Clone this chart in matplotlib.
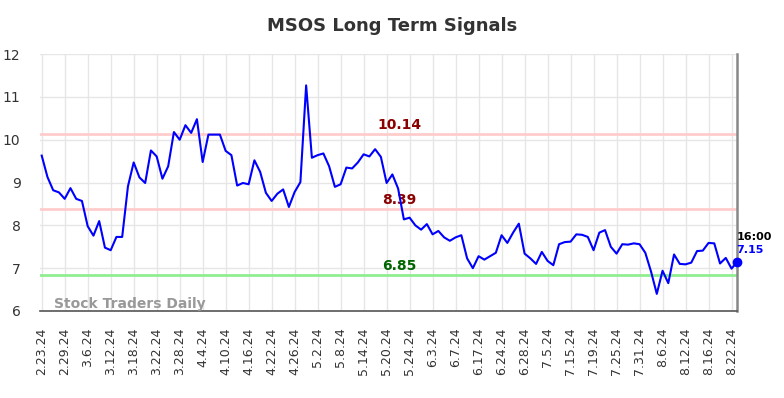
import matplotlib
matplotlib.use("Agg")
import matplotlib.pyplot as plt

tick_labels = ["2.23.24", "2.29.24", "3.6.24", "3.12.24", "3.18.24", "3.22.24", "3.28.24",
               "4.4.24", "4.10.24", "4.16.24", "4.22.24", "4.26.24", "5.2.24", "5.8.24",
               "5.14.24", "5.20.24", "5.24.24", "6.3.24", "6.7.24", "6.17.24", "6.24.24",
               "6.28.24", "7.5.24", "7.15.24", "7.19.24", "7.25.24", "7.31.24", "8.6.24",
               "8.12.24", "8.16.24", "8.22.24"]

values = [9.63, 9.13, 8.82, 8.77, 8.62, 8.87, 8.62, 8.57, 7.98, 7.76,
          8.10, 7.48, 7.42, 7.73, 7.73, 8.91, 9.47, 9.12, 8.99, 9.75,
          9.61, 9.09, 9.38, 10.18, 10.00, 10.34, 10.16, 10.48, 9.48, 10.12,
          10.12, 10.12, 9.74, 9.64, 8.93, 8.99, 8.96, 9.52, 9.25, 8.76,
          8.57, 8.74, 8.84, 8.43, 8.78, 9.01, 11.27, 9.58, 9.64, 9.68,
          9.38, 8.90, 8.96, 9.35, 9.33, 9.47, 9.66, 9.61, 9.78, 9.60,
          8.99, 9.19, 8.86, 8.14, 8.18, 8.00, 7.90, 8.03, 7.79, 7.87,
          7.72, 7.64, 7.72, 7.77, 7.23, 7.00, 7.28, 7.20, 7.28, 7.36,
          7.77, 7.59, 7.83, 8.04, 7.34, 7.23, 7.10, 7.38, 7.17, 7.07,
          7.56, 7.61, 7.62, 7.79, 7.78, 7.73, 7.42, 7.83, 7.89, 7.50,
          7.34, 7.56, 7.55, 7.58, 7.56, 7.36, 6.92, 6.40, 6.94, 6.65,
          7.32, 7.10, 7.09, 7.13, 7.40, 7.41, 7.59, 7.58, 7.11, 7.24,
          6.99, 7.15]

upper_level = 10.14
middle_level = 8.39
lower_level = 6.85
last_time = "16:00"

fig = plt.figure(figsize=(7.84, 3.98), dpi=100)
ax = fig.add_axes([0.051, 0.2186, 0.8894, 0.6454])

x = list(range(len(values)))
tick_pos = list(range(0, 4 * len(tick_labels), 4))

ax.set_xlim(-0.3, len(values) - 1)
ax.set_ylim(6, 12)
ax.set_yticks(range(6, 13))
ax.set_xticks(tick_pos)
ax.set_xticklabels(tick_labels, rotation=90, fontsize=9, color="#333333")
ax.tick_params(axis="y", labelsize=10, colors="#333333", length=0, pad=14)
ax.tick_params(axis="x", length=0, pad=12)
ax.grid(True, color="#e6e6e6", linewidth=1)
ax.set_axisbelow(True)

for s in ["left", "top"]:
    ax.spines[s].set_visible(False)
ax.spines["bottom"].set_color("#555555")
ax.spines["bottom"].set_linewidth(1.2)
ax.spines["right"].set_color("#888888")
ax.spines["right"].set_linewidth(1.8)

ax.axhline(upper_level, color="#ffcccc", linewidth=2, zorder=1)
ax.axhline(middle_level, color="#ffcccc", linewidth=2, zorder=1)
ax.axhline(lower_level, color="#90ee90", linewidth=2, zorder=1)

lab_x = 62.2
for lvl, col in [(upper_level, "#8b0000"), (middle_level, "#8b0000"), (lower_level, "#006400")]:
    ax.annotate(f"{lvl:.2f}", xy=(lab_x, lvl), xytext=(0, 6), textcoords="offset points",
                color=col, fontsize=10, fontweight="bold", ha="center", va="center")

ax.plot(x, values, color="#0000ff", linewidth=1.5, zorder=3)
ax.plot([x[-1]], [values[-1]], "o", color="#0000ff", markersize=6, zorder=4, clip_on=False)

ax.annotate(last_time, xy=(x[-1], values[-1]), xytext=(-0.5, 18), textcoords="offset points",
            fontsize=8, fontweight="bold", color="black", ha="left", va="center",
            annotation_clip=False)
ax.annotate(f"{values[-1]:.2f}", xy=(x[-1], values[-1]), xytext=(-0.5, 8.3), textcoords="offset points",
            fontsize=8, fontweight="bold", color="#0000ff", ha="left", va="center",
            annotation_clip=False)

ax.text(0.02, 0.0, "Stock Traders Daily", transform=ax.transAxes, fontsize=10,
        fontweight="bold", color="#999999", ha="left", va="bottom")

fig.text(0.5, 0.935, "MSOS Long Term Signals", ha="center", va="center", fontsize=13,
         fontweight="bold", color="#333333")

fig.savefig("out.png", dpi=100)
